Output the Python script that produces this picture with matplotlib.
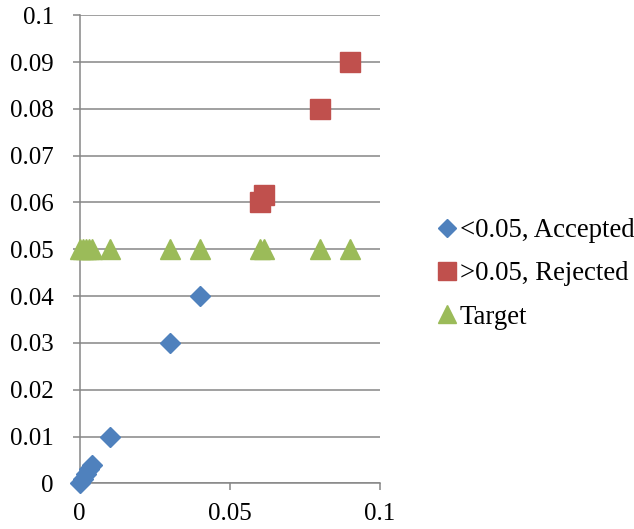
import numpy as np
import matplotlib
matplotlib.use("Agg")
import matplotlib.pyplot as plt

plt.rcParams["font.family"] = ["Liberation Serif", "DejaVu Serif"]

# data
acc_x = [0, 0.001, 0.002, 0.003, 0.004, 0.01, 0.03, 0.04]
acc_y = [0, 0.001, 0.002, 0.003, 0.004, 0.01, 0.03, 0.04]
rej_x = [0.06, 0.0615, 0.08, 0.09]
rej_y = [0.06, 0.0615, 0.08, 0.09]
tgt_x = acc_x + rej_x
tgt_y = [0.05] * len(tgt_x)

labels = ["<0.05, Accepted", ">0.05, Rejected", "Target"]
yticks = [0, 0.01, 0.02, 0.03, 0.04, 0.05, 0.06, 0.07, 0.08, 0.09, 0.1]
ytick_labels = ["0", "0.01", "0.02", "0.03", "0.04", "0.05", "0.06", "0.07", "0.08", "0.09", "0.1"]
xticks = [0, 0.05, 0.1]
xtick_labels = ["0", "0.05", "0.1"]

blue = "#4F81BD"
red = "#C0504D"
green = "#9BBB59"
grey = "#868686"

W, H = 634, 529
fig = plt.figure(figsize=(W / 100, H / 100), dpi=100)
ax = fig.add_axes([79.5 / W, (H - 483.3) / H, (380 - 79.5) / W, (483.3 - 15.3) / H])

ax.plot(acc_x, acc_y, linestyle="none", marker="D", markersize=9.8,
        color=blue, clip_on=False, zorder=3, label=labels[0])
ax.plot(rej_x, rej_y, linestyle="none", marker="s", markersize=14,
        color=red, clip_on=False, zorder=3, label=labels[1])
ax.plot(tgt_x, tgt_y, linestyle="none", marker="^", markersize=14,
        color=green, clip_on=False, zorder=3, label=labels[2])

ax.set_xlim(0, 0.1)
ax.set_ylim(0, 0.1)
ax.set_yticks(yticks)
ax.set_yticklabels(ytick_labels)
ax.set_xticks(xticks)
ax.set_xticklabels(xtick_labels)

ax.yaxis.grid(True, color=grey, linewidth=1.1)
ax.set_axisbelow(True)
for s in ["top", "right"]:
    ax.spines[s].set_visible(False)
for s in ["left", "bottom"]:
    ax.spines[s].set_color(grey)
    ax.spines[s].set_linewidth(1.1)

ax.tick_params(axis="both", direction="out", length=5, width=1.1,
               color=grey, labelsize=18, labelcolor="black")
ax.tick_params(axis="y", pad=13.5)
ax.tick_params(axis="x", pad=9)

fig.legend(loc="center left", bbox_to_anchor=(437 / W, 1 - 274 / H),
           frameon=False, fontsize=19.3, numpoints=1, markerscale=0.9,
           handlelength=0.75, handletextpad=0.1, labelspacing=0.68,
           borderpad=0, borderaxespad=0)

fig.savefig("out.png", dpi=100)
